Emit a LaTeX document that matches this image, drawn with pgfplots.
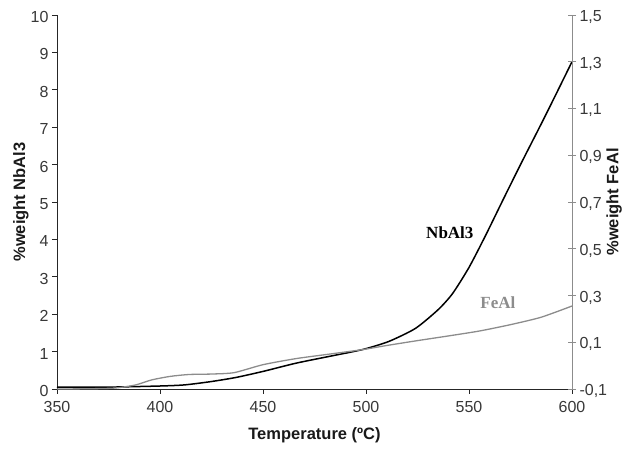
\documentclass[border=0pt]{standalone}
\usepackage{pgfplots}
\pgfplotsset{compat=1.18}
\usepackage{pgfplotstable}
\usepackage{fontspec}
\setmainfont{Liberation Sans}
\newfontfamily\timesfont{Liberation Serif}

% NbAl3 content (left axis, %weight) vs temperature
\pgfplotstableread{
T   w
350 0.05
375 0.05
400 0.08
412 0.11
425 0.20
437 0.31
450 0.47
466 0.69
482 0.87
498 1.05
511 1.27
524 1.62
535 2.12
542 2.55
550 3.25
558 4.10
566 5.00
575 6.00
587 7.30
600 8.75
}\nbal

% FeAl content (right axis, %weight) vs temperature
\pgfplotstableread{
T   w
350 -0.100
365 -0.099
378 -0.096
388 -0.083
396 -0.061
405 -0.046
414 -0.038
425 -0.036
436 -0.030
450 0.004
466 0.030
482 0.049
498 0.068
510 0.086
525 0.107
540 0.127
555 0.148
570 0.175
585 0.207
600 0.255
}\feal

\definecolor{fealgray}{gray}{0.55}

\begin{document}
\begin{tikzpicture}
\begin{axis}[
  name=main,
  scale only axis, width=515pt, height=374pt,
  xmin=350, xmax=600, ymin=0, ymax=10,
  axis x line*=bottom, axis y line*=left,
  axis line style={-, line width=0.8pt, black!85},
  xtick={350,400,...,600}, ytick={0,1,...,10},
  tick align=outside, major tick length=5pt,
  tick style={black!85, line width=0.6pt},
  /pgf/number format/assume math mode=true,
  ticklabel style={font=\fontsize{16}{16}\selectfont, text=black!78},
  xticklabel style={yshift=-4pt},
  yticklabel style={yshift=-2pt},
  xlabel={Temperature (ºC)},
  ylabel={\%weight NbAl3},
  xlabel style={font=\fontsize{16.5}{16.5}\selectfont\bfseries, text=black!90,
    at={(axis description cs:0.5,-0.123)}, anchor=center},
  ylabel style={font=\fontsize{16.5}{16.5}\selectfont\bfseries, text=black!90,
    at={(axis description cs:-0.070,0.5)}, anchor=center},
  clip=false,
]
\addplot[black, line width=1.5pt, smooth, tension=0.4] table[x=T, y=w] {\nbal};
\node[font=\timesfont\fontsize{17}{17}\selectfont\bfseries, text=black]
  at (axis cs:540.7,4.17) {NbAl3};
\end{axis}

\begin{axis}[
  scale only axis, width=515pt, height=374pt,
  xmin=350, xmax=600, ymin=-0.1, ymax=1.5,
  axis x line=none, axis y line*=right,
  axis line style={-, line width=0.8pt, fealgray},
  ytick={-0.1,0.1,0.3,0.5,0.7,0.9,1.1,1.3,1.5},
  yticklabels={{-0,1},{0,1},{0,3},{0,5},{0,7},{0,9},{1,1},{1,3},{1,5}},
  tick align=center, major tick length=8pt,
  tick style={fealgray, line width=0.6pt},
  yticklabel style={font=\fontsize{16}{16}\selectfont, text=black!78,
    anchor=west, yshift=-2pt},
  ylabel={\%weight FeAl},
  ylabel style={font=\fontsize{16.5}{16.5}\selectfont\bfseries, text=black!90,
    at={(axis description cs:1.082,0.5)}, anchor=center},
  clip=false,
]
\addplot[fealgray, line width=1.3pt, smooth, tension=0.4] table[x=T, y=w] {\feal};
\node[font=\timesfont\fontsize{17}{17}\selectfont\bfseries, text=fealgray]
  at (axis cs:564,0.268) {FeAl};
\end{axis}

\pgfresetboundingbox
\path[use as bounding box] ([xshift=-57pt,yshift=-60pt]main.south west)
  rectangle ([xshift=62pt,yshift=15pt]main.north east);
\end{tikzpicture}
\end{document}
